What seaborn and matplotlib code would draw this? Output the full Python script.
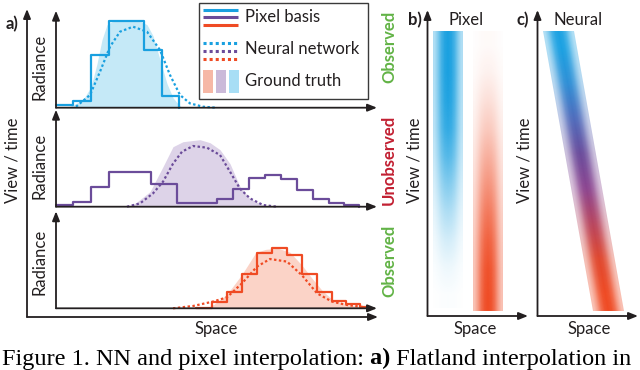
import numpy as np
import matplotlib
matplotlib.use("Agg")
import matplotlib.pyplot as plt
import matplotlib.patches as patches
import matplotlib.transforms as mtransforms
from matplotlib.colors import to_rgb
import seaborn as sns

# values: x = px right of the panel axis, y = px above baseline
obs1_edges = [0, 17, 35, 53, 88, 106, 123]
obs1_steps = [2.3, 7, 52.7, 87, 57.7, 11.7, 0]
obs1_nn_x = [20, 34, 44, 54, 64, 77, 91, 104, 114, 124, 134, 147, 160]
obs1_nn_y = [1, 12.7, 36, 61, 76, 81, 76, 57.7, 32.7, 12.7, 4.3, 1, 0]
obs1_gt_x = [10, 17, 27, 35, 41, 46, 51, 56, 70, 85, 91, 97, 104, 111, 117, 121, 126]
obs1_gt_y = [0, 2.7, 7.7, 21, 44, 68, 83, 86, 87, 86, 83, 72, 48, 24, 10, 5, 0]

mid_edges = [0, 17, 35, 53, 95, 121, 161, 177, 193, 209, 225, 241, 257, 273, 288, 303]
mid_steps = [1.3, 5, 20, 35, 23, 4, 7.7, 17.7, 29, 32, 28, 17, 7.7, 3.3, 1.3, 0]
mid_nn_x = [71, 84, 97, 107, 117, 126, 137, 151, 164, 174, 184, 194, 207, 221]
mid_nn_y = [0, 3.3, 13.3, 25, 43, 55, 60.7, 59, 51.7, 35, 18, 8.3, 1.7, 0]
mid_gt_x = [71, 80, 94, 107, 117, 127, 144, 154, 164, 174, 184, 194, 207, 221]
mid_gt_y = [0, 4, 15, 40, 60, 65, 67, 64, 57, 43, 20, 8, 1.7, 0]

obs2_edges = [140, 155.7, 170.7, 185.7, 200.7, 215.7, 230.7, 245.7, 260.7, 275.7, 290, 304, 312.3]
obs2_steps = [0, 6.7, 16, 34.3, 55, 60, 53.3, 34.3, 16, 7.3, 4, 1.7, 0]
obs2_nn_x = [117, 137, 157, 171, 186, 201, 214, 231, 246, 261, 276, 291, 304, 312]
obs2_nn_y = [0, 2.3, 6.7, 11, 25, 41.7, 49.3, 46.7, 33, 15, 6.7, 3.3, 1.7, 0.5]
obs2_gt_x = [150, 158, 171, 186, 200, 210, 222, 234, 246, 256, 266, 276, 290, 304, 313]
obs2_gt_y = [0, 4, 14, 34, 56, 59, 60, 56, 43, 30, 18, 9, 4, 1.5, 0]

# b) / c) bands: opacity across a band, and along view/time (top -> bottom)
band_profile = [0.35, 0.55, 0.8, 0.95, 1.0, 0.95, 0.8, 0.55, 0.35]
pixel_top_fade = [1.0, 1.0, 0.97, 0.9, 0.75, 0.55, 0.36, 0.2, 0.08, 0.02]
pixel_bottom_fade = [0.03, 0.08, 0.18, 0.3, 0.45, 0.6, 0.75, 0.88, 0.97, 1.0]
neural_colors = ["#1ba1e2", "#2f8fd6", "#4f6cbc", "#6a4c9c", "#8c4590", "#b8455f", "#e0482f", "#ef4a23"]

BLUE, PURPLE, ORANGE = "#19a0e0", "#6b4c9a", "#ef4b24"
BLUE_F, PURPLE_F, ORANGE_F = "#c5e9f7", "#ddd3e8", "#fbd3c7"
GREEN, RED, DARK = "#62b346", "#c22032", "#231f20"

sns.set_theme(style="white")
plt.rcParams["font.family"] = ["Lato", "DejaVu Sans"]

W, H = 640, 370
fig = plt.figure(figsize=(6.4, 3.7), dpi=100)


def px_axes(left, top, width, height):
    return fig.add_axes([left / W, 1 - (top + height) / H, width / W, height / H])


panels = [
    (107.7, obs1_edges, obs1_steps, obs1_nn_x, obs1_nn_y, obs1_gt_x, obs1_gt_y, BLUE, BLUE_F),
    (206.7, mid_edges, mid_steps, mid_nn_x, mid_nn_y, mid_gt_x, mid_gt_y, PURPLE, PURPLE_F),
    (308.3, obs2_edges, obs2_steps, obs2_nn_x, obs2_nn_y, obs2_gt_x, obs2_gt_y, ORANGE, ORANGE_F),
]
for base, edges, steps, nx, ny, gx, gy, col, fcol in panels:
    ax = px_axes(56, base - 94, 317, 94)
    ax.fill_between(gx, gy, color=fcol, lw=0)
    sns.lineplot(x=edges, y=steps, ax=ax, color=col, lw=1.6, drawstyle="steps-post",
                 estimator=None, sort=False, clip_on=False)
    sns.lineplot(x=nx, y=ny, ax=ax, color=col, lw=1.6, linestyle=(0, (1.1, 1.1)),
                 estimator=None, sort=False, clip_on=False)
    ax.set_xlim(0, 317)
    ax.set_ylim(0, 94)
    ax.axis("off")

ov = fig.add_axes([0, 0, 1, 1])
ov.set_zorder(3)
ov.patch.set_alpha(0)


def band(colors, alphas):
    rgba = np.zeros((len(alphas), len(band_profile), 4))
    rgba[..., :3] = np.array([to_rgb(c) for c in colors])[:, None, :]
    rgba[..., 3] = np.outer(alphas, band_profile)
    return rgba


ov.imshow(band([BLUE] * len(pixel_top_fade), pixel_top_fade), extent=[433, 463, 308, 31],
          interpolation="bilinear", aspect="auto")
ov.imshow(band([ORANGE] * len(pixel_bottom_fade), pixel_bottom_fade), extent=[473, 503, 311, 31],
          interpolation="bilinear", aspect="auto")
im = ov.imshow(band(neural_colors, [1.0] * len(neural_colors)), extent=[543, 574, 311, 31],
               interpolation="bilinear", aspect="auto")
k = 50 / 280
im.set_transform(mtransforms.Affine2D(np.array([[1, k, -k * 31], [0, 1, 0], [0, 0, 1]])) + ov.transData)

ov.set_xlim(0, W)
ov.set_ylim(H, 0)
ov.axis("off")

arrow = dict(arrowstyle="-|>,head_length=0.55,head_width=0.22", mutation_scale=10,
             lw=1.3, color=DARK, shrinkA=0, shrinkB=0)
axes_lines = [((27, 317), (27, 9)), ((27, 317), (378, 317)),
              ((427.5, 316), (427.5, 10)), ((427.5, 316), (528, 316)),
              ((537.5, 316), (537.5, 10)), ((537.5, 316), (638, 316))]
for base in (107.7, 206.7, 308.3):
    axes_lines += [((56, base), (56, base - 97)), ((56, base), (377, base))]
for start, tip in axes_lines:
    ov.annotate("", xy=tip, xytext=start, arrowprops=arrow)

# legend
ov.add_patch(patches.Rectangle((199, 2.5), 169, 96, fc="white", ec="#3a3a3a", lw=1, zorder=2))
for y, c in zip((10, 17.3, 24.7), (BLUE, PURPLE, ORANGE)):
    ov.plot([203, 238], [y, y], color=c, lw=2.2, solid_capstyle="butt", zorder=3)
for y, c in zip((42.7, 51, 59.3), (BLUE, PURPLE, ORANGE)):
    ov.plot([203, 238], [y, y], color=c, lw=2.2, linestyle=(0, (1, 1)), zorder=3)
for x0, c in zip((203, 216, 229), ("#f6b8a6", "#cbbad9", "#a8def5")):
    ov.add_patch(patches.Rectangle((x0, 70), 10, 23.3, fc=c, lw=0, zorder=3))
lab = dict(fontsize=12, color=DARK, va="center", ha="left", zorder=4)
ov.text(245, 17, "Pixel basis", **lab)
ov.text(245, 49, "Neural network", **lab)
ov.text(245, 81, "Ground truth", **lab)

# labels
txt = dict(fontsize=12, color=DARK, ha="center", va="center")
ov.text(12, 24, "a)", weight="bold", **txt)
ov.text(415, 20, "b)", weight="bold", **txt)
ov.text(523, 20, "c)", weight="bold", **txt)
ov.text(466, 20, "Pixel", **txt)
ov.text(578, 20, "Neural", **txt)
for y in (67, 166, 262):
    ov.text(40, y, "Radiance", rotation=90, **txt)
for x in (13, 415, 524.5):
    ov.text(x, 160, "View / time", rotation=90, **txt)
for x in (216, 475, 589):
    ov.text(x, 329, "Space", **txt)
side = dict(fontsize=12, weight="bold", rotation=90, ha="center", va="center")
ov.text(389, 47, "Observed", color=GREEN, **side)
ov.text(389, 160, "Unobserved", color=RED, **side)
ov.text(389, 261, "Observed", color=GREEN, **side)

cap = dict(family="Liberation Serif", fontsize=17.5, color="black", va="bottom", ha="left")
t1 = ov.text(2, 369.5, "Figure 1. NN and pixel interpolation:", **cap)
t2 = ov.annotate(" a)", xy=(1, 0), xycoords=t1, weight="bold", **cap)
ov.annotate(" Flatland interpolation in", xy=(1, 0), xycoords=t2, **cap)

fig.savefig("out.png", dpi=100)
